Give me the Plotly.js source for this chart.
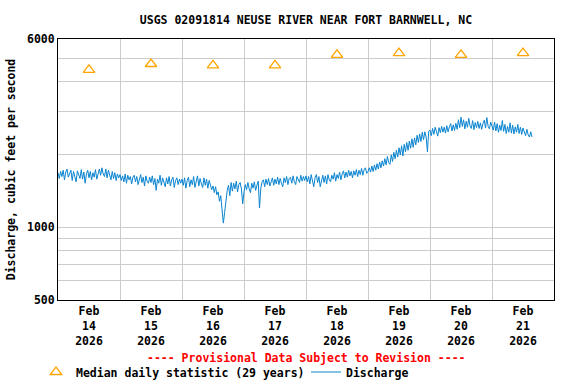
<!DOCTYPE html>
<html>
<head>
<meta charset="utf-8">
<script src="https://cdn.plot.ly/plotly-3.0.1.min.js"></script>
<style>html,body{margin:0;padding:0;background:#fff;}#chart{width:576px;height:384px;}</style>
</head>
<body>
<div id="chart"></div>
<script>
// ---- data ----
const seriesStart = "2026-02-14 00:00";   // first reading
const stepMinutes = 30;                    // reading interval
const dischargeDay14 = [1680,1590,1700,1620,1720,1570,1690,1740,1610,1660,1720,1560,1700,1620,1540,1710,1650,1590,1730,1580,1690,1520,1660,1720,1600,1700,1570,1680,1610,1730,1580,1660,1740,1640,1760,1660,1620,1740,1600,1720,1650,1570,1700,1590,1680,1560,1660,1600];
const dischargeDay15 = [1650,1560,1630,1540,1660,1520,1640,1570,1620,1510,1610,1640,1540,1620,1500,1600,1650,1530,1610,1480,1630,1550,1520,1610,1530,1630,1500,1590,1420,1580,1520,1640,1490,1600,1540,1470,1600,1510,1620,1480,1570,1610,1460,1560,1600,1500,1580,1520];
const dischargeDay16 = [1580,1490,1600,1450,1560,1610,1470,1570,1500,1620,1460,1560,1630,1480,1590,1510,1460,1600,1490,1580,1450,1560,1480,1430,1480,1390,1470,1360,1400,1280,1350,1190,1040,1150,1320,1420,1490,1350,1530,1410,1520,1440,1550,1400,1500,1530,1440,1250];
const dischargeDay17 = [1400,1500,1430,1530,1440,1390,1520,1450,1540,1420,1490,1550,1200,1450,1540,1570,1470,1580,1500,1590,1480,1560,1600,1490,1580,1510,1610,1500,1590,1520,1470,1600,1530,1620,1500,1590,1610,1520,1630,1540,1500,1620,1560,1530,1640,1550,1620,1560];
const dischargeDay18 = [1630,1540,1620,1510,1650,1560,1470,1600,1650,1530,1620,1470,1580,1640,1530,1630,1510,1650,1570,1540,1640,1580,1680,1550,1650,1590,1690,1570,1660,1710,1600,1690,1610,1720,1630,1700,1600,1710,1640,1730,1620,1720,1650,1750,1640,1730,1760,1670];
const dischargeDay19 = [1700,1760,1690,1790,1700,1810,1720,1830,1740,1860,1760,1880,1790,1920,1810,1960,1850,1820,1990,1870,2040,1920,2080,1950,2130,1990,2170,1970,2200,2050,2240,2080,2270,2120,2320,2140,2340,2190,2400,2240,2430,2260,2470,2300,2480,2360,2050,2490];
const dischargeDay20 = [2520,2390,2560,2420,2590,2450,2380,2580,2460,2610,2470,2590,2450,2630,2480,2600,2680,2500,2650,2510,2690,2540,2780,2580,2850,2610,2780,2550,2740,2590,2820,2620,2560,2760,2530,2710,2580,2740,2560,2700,2540,2680,2770,2570,2840,2610,2550,2720];
const dischargeDay21 = [2620,2520,2720,2500,2680,2470,2640,2510,2760,2490,2660,2440,2610,2470,2700,2450,2640,2430,2600,2470,2660,2440,2590,2420,2570,2450,2390,2540,2410,2360,2480,2360];

const medianDates = ["2026-02-14 12:00","2026-02-15 12:00","2026-02-16 12:00","2026-02-17 12:00","2026-02-18 12:00","2026-02-19 12:00","2026-02-20 12:00","2026-02-21 12:00"];
const medianValues = [4470,4730,4670,4670,5160,5250,5160,5250];

const yTickVals = [500,600,700,800,900,1000,2000,3000,4000,5000,6000];
const yTickText = ["500","","","","","1000","","","","","6000"];
const xRange = ["2026-02-14 00:00","2026-02-22 00:00"];

// ---- build ----
const discharge = [].concat(dischargeDay14,dischargeDay15,dischargeDay16,dischargeDay17,dischargeDay18,dischargeDay19,dischargeDay20,dischargeDay21);
const t0 = Date.parse(seriesStart.replace(" ","T")+":00Z");
const dischargeTimes = discharge.map((v,i)=>new Date(t0 + i*stepMinutes*60000).toISOString().slice(0,19).replace("T"," "));

const FONT = "DejaVu Sans Mono, Liberation Mono, monospace";
const f = (size,color)=>({family:FONT,size:size,color:color||"#000",weight:700});

const traces = [
  {x:medianDates,y:medianValues,type:"scatter",mode:"markers",name:"Median daily statistic (29 years)",
   marker:{symbol:"triangle-up-open",size:10,color:"#FFA500",line:{width:1.3,color:"#FFA500"}},legend:"legend"},
  {x:dischargeTimes,y:discharge,type:"scatter",mode:"lines",name:"Discharge",
   line:{color:"#0a84d0",width:1},legend:"legend2"}
];

const layout = {
  width:576,height:384,
  margin:{l:58,r:22,t:39,b:84,autoexpand:false},
  paper_bgcolor:"#fff",plot_bgcolor:"#fff",
  showlegend:true,
  title:{text:"USGS 02091814 NEUSE RIVER NEAR FORT BARNWELL, NC",font:f(11.5),x:0.5,xref:"paper",y:1-20/384,yref:"container",yanchor:"middle"},
  xaxis:{type:"date",range:xRange,tick0:"2026-02-14",dtick:86400000,ticklabelmode:"period",
    tickformat:"%b<br>%d<br>%Y",tickfont:f(11.5),showgrid:true,gridcolor:"#cccccc",gridwidth:1,
    showline:true,mirror:true,linecolor:"#000",linewidth:1,ticks:"",zeroline:false},
  yaxis:{type:"log",range:[Math.log10(500),Math.log10(6000)],tickvals:yTickVals,ticktext:yTickText,
    tickfont:f(11.5),showgrid:true,gridcolor:"#cccccc",gridwidth:1,showline:true,mirror:true,
    linecolor:"#000",linewidth:1,ticks:"",automargin:true,
    title:{text:"Discharge, cubic feet per second",font:f(11.5),standoff:8}},
  legend:{orientation:"h",xref:"container",yref:"container",x:36/576,xanchor:"left",y:1-372/384,yanchor:"middle",font:f(11.5),bgcolor:"rgba(0,0,0,0)",itemwidth:30},
  legend2:{orientation:"h",xref:"container",yref:"container",x:306/576,xanchor:"left",y:1-372/384,yanchor:"middle",font:f(11.5),bgcolor:"rgba(0,0,0,0)",itemwidth:30},
  annotations:[{text:"---- Provisional Data Subject to Revision ----",xref:"paper",yref:"paper",x:0.5,y:-58/261,
    xanchor:"center",yanchor:"middle",showarrow:false,font:f(11.5,"#ff0000")}]
};

Plotly.newPlot("chart",traces,layout,{staticPlot:true,displayModeBar:false});
</script>
</body>
</html>
